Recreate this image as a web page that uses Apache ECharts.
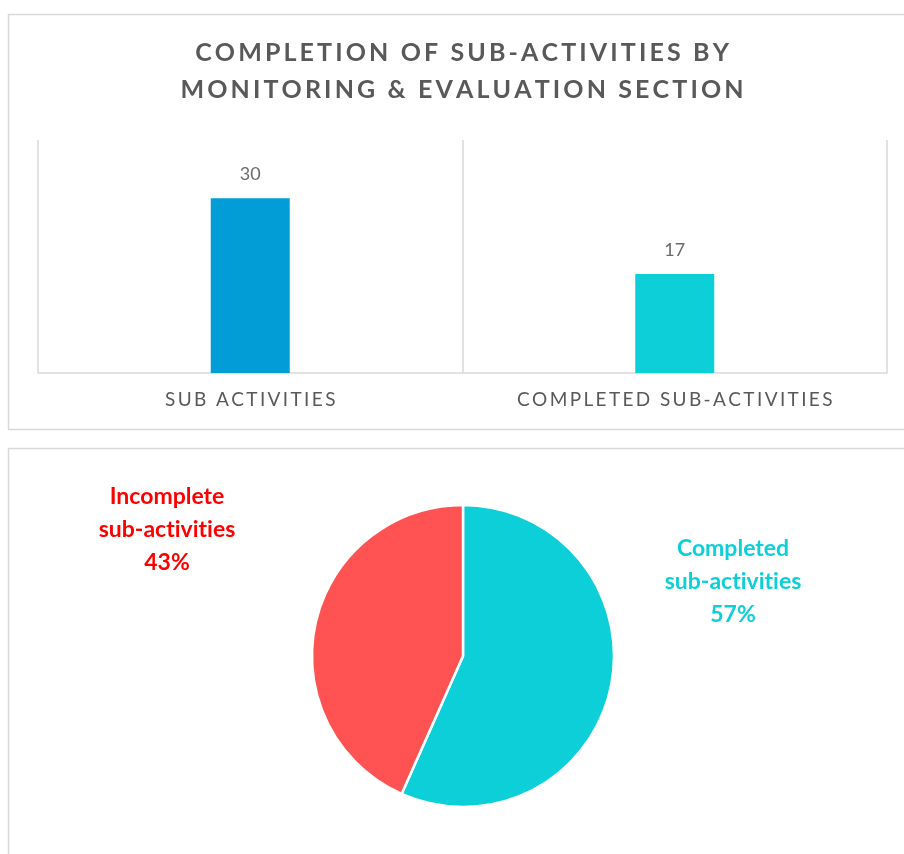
<!DOCTYPE html>
<html>
<head>
<meta charset="utf-8">
<title>Completion of sub-activities</title>
<script src="https://cdn.jsdelivr.net/npm/echarts@6/dist/echarts.min.js"></script>
<style>
  html, body { margin: 0; padding: 0; background: #fff; }
  #chart { width: 904px; height: 854px; }
</style>
</head>
<body>
<div id="chart"></div>
<script>
// bar chart data
const barCategories = ['SUB ACTIVITIES', 'COMPLETED SUB-ACTIVITIES']
const barValues = [30, 17]
const barColors = ['#029dd6', '#0dcfd8']

// pie data
const pieNames = ['Completed sub-activities', 'Incomplete sub-activities']
const pieValues = [17, 13]
const pieColors = ['#0dcfd8', '#ff5252']
const pieLabelColors = ['#0dcfd8', '#ff0000']

const FONT = 'Lato'
const GRAY = '#595959'
const BORDER = '#d9d9d9'

// pie geometry + label offsets from pie center
const PIE_CX = 463
const PIE_CY = 656
const pieLabelOffsets = [[270, -74], [-296, -126]]

// fake letter spacing (zrender has no letterSpacing)
const spaced = (s, gap) => s.split('').join(gap)
// stop Lato from joining "ti" into a ligature
const noLig = s => s.replace(/ti/g, 't\u200Ci')

const chart = echarts.init(document.getElementById('chart'))

const option = {
  animation: false,
  backgroundColor: '#fff',
  title: {
    text: spaced('COMPLETION OF SUB-ACTIVITIES BY', '\u2009') + '\n' +
          spaced('MONITORING & EVALUATION SECTION', '\u2009'),
    left: 462,
    top: 34,
    padding: 0,
    textAlign: 'center',
    textStyle: {
      fontFamily: FONT,
      fontSize: 25,
      fontWeight: 'bold',
      color: GRAY,
      lineHeight: 37
    }
  },
  graphic: [
    {
      type: 'rect',
      shape: { x: 8.5, y: 14.5, width: 1000, height: 415 },
      style: { fill: 'none', stroke: BORDER, lineWidth: 1.5 },
      silent: true
    },
    {
      type: 'rect',
      shape: { x: 8.5, y: 448.5, width: 1000, height: 500 },
      style: { fill: 'none', stroke: BORDER, lineWidth: 1.5 },
      silent: true
    }
  ],
  grid: {
    left: 38,
    right: 17,
    top: 140,
    bottom: 481
  },
  xAxis: {
    type: 'category',
    data: barCategories,
    axisLine: { lineStyle: { color: BORDER, width: 1.5 } },
    axisTick: { show: false },
    splitLine: { show: true, lineStyle: { color: BORDER, width: 1.5 } },
    axisLabel: {
      margin: 17,
      fontFamily: FONT,
      fontSize: 19,
      color: GRAY,
      formatter: v => spaced(v, '\u2009')
    }
  },
  yAxis: {
    type: 'value',
    min: 0,
    max: 40,
    show: false
  },
  series: [
    {
      type: 'bar',
      barWidth: 79,
      data: barValues.map((v, i) => ({ value: v, itemStyle: { color: barColors[i] } })),
      label: {
        show: true,
        position: 'top',
        distance: 15,
        fontFamily: FONT,
        fontSize: 18,
        color: '#6b6b6b'
      }
    },
    {
      type: 'pie',
      center: [PIE_CX, PIE_CY],
      radius: 151,
      startAngle: 90,
      clockwise: true,
      itemStyle: { borderColor: '#fff', borderWidth: 2.5 },
      data: pieValues.map((v, i) => ({
        name: pieNames[i],
        value: v,
        itemStyle: { color: pieColors[i] },
        label: { color: pieLabelColors[i] }
      })),
      label: {
        show: true,
        position: 'outside',
        fontFamily: FONT,
        fontSize: 23,
        fontWeight: 'bold',
        lineHeight: 33,
        align: 'center',
        formatter: p => noLig(p.name.replace(' ', '\n')) + '\n' + Math.round(p.percent) + '%'
      },
      labelLine: { show: false },
      labelLayout: p => ({
        x: PIE_CX + pieLabelOffsets[p.dataIndex][0],
        y: PIE_CY + pieLabelOffsets[p.dataIndex][1],
        align: 'center',
        verticalAlign: 'middle'
      })
    }
  ]
}

chart.setOption(option)
</script>
</body>
</html>
